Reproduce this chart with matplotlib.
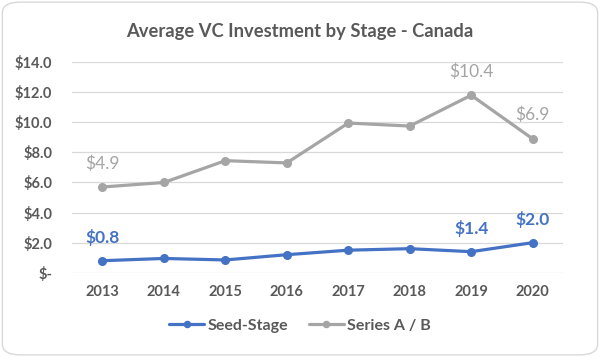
import matplotlib
matplotlib.use("Agg")
import matplotlib.pyplot as plt
from matplotlib.patches import FancyBboxPatch
import numpy as np

years = ["2013", "2014", "2015", "2016", "2017", "2018", "2019", "2020"]
seed = [0.8, 0.95, 0.85, 1.2, 1.5, 1.6, 1.4, 2.0]
series_ab = [4.9, 5.05, 6.6, 6.1, 8.45, 8.15, 10.4, 6.9]
yticks = [0, 2, 4, 6, 8, 10, 12, 14]
ytick_labels = ["$-", "$2.0", "$4.0", "$6.0", "$8.0", "$10.0", "$12.0", "$14.0"]
seed_label_idx = [0, 6, 7]
ab_label_idx = [0, 6, 7]

BLUE = "#4472C4"
GRAY = "#A5A5A5"
TXT = "#595959"
FONT = ["Lato", "DejaVu Sans"]

fig = plt.figure(figsize=(6.0, 3.57), dpi=100)
fig.patch.set_facecolor("white")
border = FancyBboxPatch((0.004, 0.006), 0.992, 0.988, boxstyle="round,pad=0,rounding_size=0.03",
                        transform=fig.transFigure, facecolor="none", edgecolor="#D9D9D9",
                        linewidth=1.0, zorder=-5)
fig.patches.append(border)

ax = fig.add_axes([0.1195, 0.236, 0.8195, 0.590])
ax.patch.set_alpha(0)
x = np.arange(len(years))
total = np.array(seed) + np.array(series_ab)

ax.plot(x, seed, color=BLUE, lw=2.3, marker="o", ms=5.5, label="Seed-Stage", zorder=3,
        solid_capstyle="round")
ax.plot(x, total, color=GRAY, lw=2.3, marker="o", ms=5.5, label="Series A / B", zorder=3,
        solid_capstyle="round")

for i in seed_label_idx:
    ax.annotate(f"${seed[i]:.1f}", (x[i], seed[i]), xytext=(0, 17), textcoords="offset points",
                ha="center", va="center", color=BLUE, fontsize=12.5, fontweight="bold", family=FONT)
for i in ab_label_idx:
    ax.annotate(f"${series_ab[i]:.1f}", (x[i], total[i]), xytext=(0, 17), textcoords="offset points",
                ha="center", va="center", color=GRAY, fontsize=12.5, family=FONT)

ax.set_xlim(-0.5, len(years) - 0.5)
ax.set_ylim(0, 14)
ax.set_yticks(yticks)
ax.set_yticklabels(ytick_labels)
ax.set_xticks(x)
ax.set_xticklabels(years)
ax.grid(axis="y", color="#D9D9D9", lw=0.9)
ax.set_axisbelow(True)
for s in ax.spines.values():
    s.set_visible(False)
ax.tick_params(length=0, colors=TXT, labelsize=10.5)
ax.tick_params(axis="y", pad=14)
ax.tick_params(axis="x", pad=9)
for lab in ax.get_xticklabels() + ax.get_yticklabels():
    lab.set_fontweight("bold")
    lab.set_family(FONT)
    lab.set_color(TXT)

fig.text(0.5, 0.913, "Average VC Investment by Stage - Canada", ha="center", va="center",
         fontsize=13.2, color=TXT, family=FONT, fontweight="bold")

leg = fig.legend(loc="center", bbox_to_anchor=(0.5, 0.087), ncol=2, frameon=False,
                 prop={"family": FONT, "weight": "bold", "size": 11.5}, handlelength=2.2,
                 columnspacing=1.3, handletextpad=0.2, markerscale=0.8)
for t in leg.get_texts():
    t.set_color(TXT)

fig.savefig("out.png", dpi=100, facecolor="white")
